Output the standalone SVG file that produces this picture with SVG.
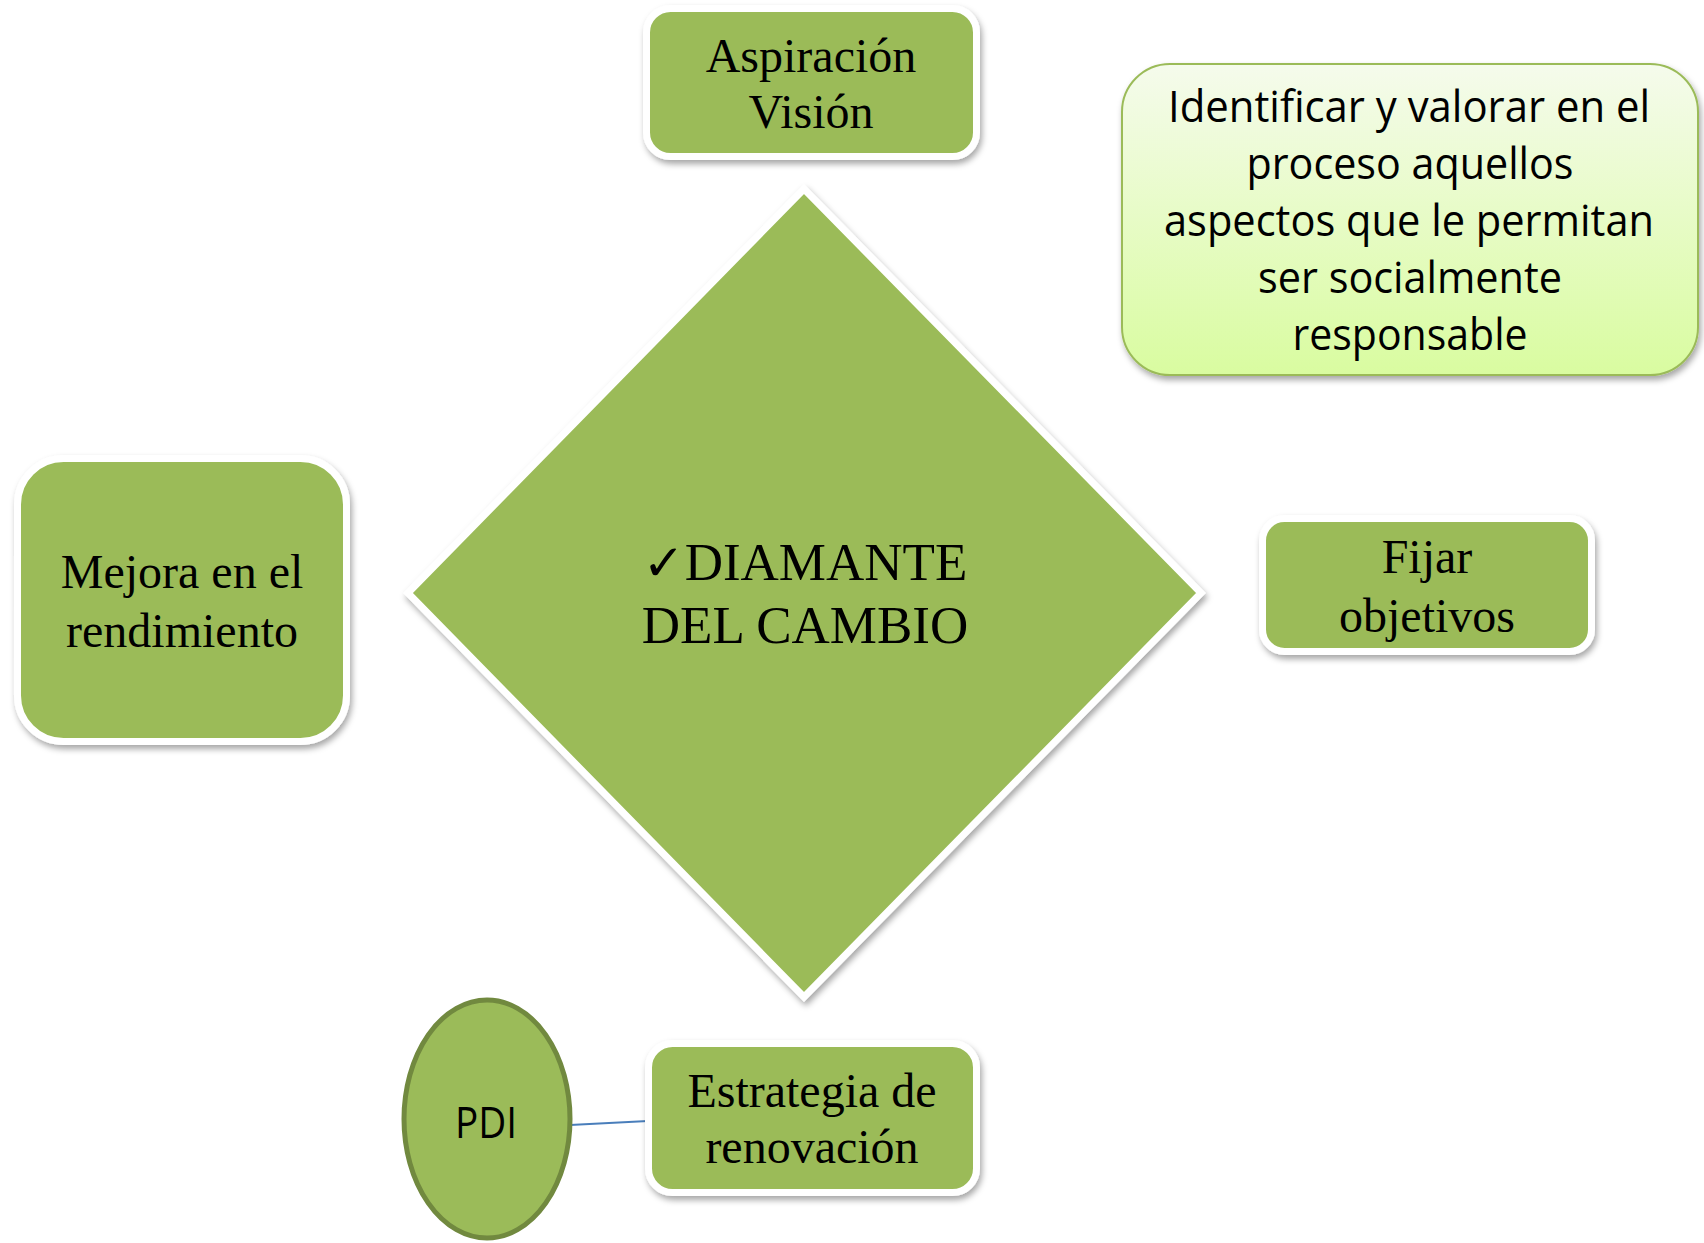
<svg xmlns="http://www.w3.org/2000/svg" width="1704" height="1243" viewBox="0 0 1704 1243">
  <defs>
    <filter id="shadow" x="-10%" y="-10%" width="125%" height="130%">
      <feDropShadow dx="2" dy="4" stdDeviation="3" flood-color="#000000" flood-opacity="0.35"/>
    </filter>
    <linearGradient id="lime" x1="0" y1="0" x2="0" y2="1">
      <stop offset="0" stop-color="#f5fbec"/>
      <stop offset="1" stop-color="#d9fca0"/>
    </linearGradient>
    <style>
      .box { fill: #9bbb59; stroke: #ffffff; stroke-width: 7; filter: url(#shadow); }
      .serif { font-family: "Liberation Serif", "Times New Roman", serif; font-size: 48px; fill: #000000; text-anchor: middle; }
      .sans { font-family: "Open Sans", "Noto Sans", sans-serif; font-size: 43px; fill: #000000; text-anchor: middle; }
      .big { font-size: 53px; }
    </style>
  </defs>
  <rect x="0" y="0" width="1704" height="1243" fill="#ffffff"/>

  <g id="connectors">
    <line x1="570" y1="1125" x2="648" y2="1121" stroke="#4a7ebb" stroke-width="2"/>
  </g>

  <g id="diamante">
    <polygon class="box" points="804,189 1201,593 804,997 408,593"/>
    <text class="serif big" x="805" y="580"><tspan font-family="DejaVu Sans, sans-serif" font-size="50px">✓</tspan>DIAMANTE</text>
    <text class="serif big" x="805" y="643">DEL CAMBIO</text>
  </g>

  <g id="aspiracion">
    <rect class="box" x="646.5" y="8.5" width="330" height="148" rx="24"/>
    <text class="serif" x="811" y="72">Aspiración</text>
    <text class="serif" x="811" y="128">Visión</text>
  </g>

  <g id="identificar">
    <rect x="1122" y="64" width="576" height="311" rx="48" fill="url(#lime)" stroke="#9bbb59" stroke-width="2" filter="url(#shadow)"/>
    <text class="sans" x="1409" y="122" textLength="482" lengthAdjust="spacingAndGlyphs">Identificar y valorar en el</text>
    <text class="sans" x="1410" y="179" textLength="327" lengthAdjust="spacingAndGlyphs">proceso aquellos</text>
    <text class="sans" x="1409" y="236" textLength="490" lengthAdjust="spacingAndGlyphs">aspectos que le permitan</text>
    <text class="sans" x="1410" y="293" textLength="304" lengthAdjust="spacingAndGlyphs">ser socialmente</text>
    <text class="sans" x="1410" y="350" textLength="235" lengthAdjust="spacingAndGlyphs">responsable</text>
  </g>

  <g id="mejora">
    <rect class="box" x="17.5" y="458.5" width="329" height="283" rx="46"/>
    <text class="serif" x="182" y="588">Mejora en el</text>
    <text class="serif" x="182" y="647">rendimiento</text>
  </g>

  <g id="fijar">
    <rect class="box" x="1262.5" y="518.5" width="329" height="133" rx="22"/>
    <text class="serif" x="1427" y="573">Fijar</text>
    <text class="serif" x="1427" y="632">objetivos</text>
  </g>

  <g id="estrategia">
    <rect class="box" x="648.5" y="1043.5" width="328" height="149" rx="24"/>
    <text class="serif" x="812" y="1107">Estrategia de</text>
    <text class="serif" x="812" y="1163">renovación</text>
  </g>

  <g id="pdi">
    <ellipse cx="487" cy="1119" rx="83" ry="119" fill="#9bbb59" stroke="#71893f" stroke-width="5"/>
    <text class="sans" x="486" y="1138" font-size="45px" textLength="62" lengthAdjust="spacingAndGlyphs">PDI</text>
  </g>
</svg>
